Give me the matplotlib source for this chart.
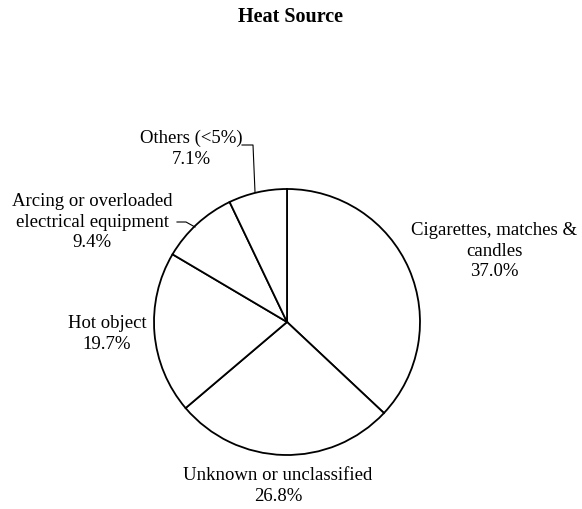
import matplotlib
matplotlib.use("Agg")
from matplotlib import pyplot as plt

plt.rcParams['font.family'] = ['Liberation Serif', 'DejaVu Serif']

labels = ['Cigarettes, matches &\ncandles', 'Unknown or unclassified',
          'Hot object', 'Arcing or overloaded\nelectrical equipment', 'Others (<5%)']
shares = [37.0, 26.8, 19.7, 9.4, 7.1]

# label block centres in image pixels (x, y from top)
label_pos = [(494, 251), (278, 486), (107, 334), (92, 222), (191, 149)]

W, H = 582, 509
fig = plt.figure(figsize=(W / 100, H / 100), dpi=100)
ax = fig.add_axes([0, 0, 1, 1])

cx, cy, r = 287, H - 322, 133
ax.pie(shares, startangle=90, counterclock=False, center=(cx, cy), radius=r,
       colors=['white'] * len(shares),
       wedgeprops=dict(edgecolor='black', linewidth=1.3))
ax.set_xlim(0, W)
ax.set_ylim(0, H)
ax.set_aspect('auto')
ax.axis('off')

for lab, val, (x, y) in zip(labels, shares, label_pos):
    ax.text(x, H - y, f"{lab}\n{val:.1f}%", ha='center', va='center',
            fontsize=13.5, linespacing=1.3)

# leader lines
ax.plot([242, 253, 255], [H - 145, H - 145, H - 192], color='black', lw=0.8)
ax.plot([177, 186, 195], [H - 222, H - 222, H - 227], color='black', lw=0.8)

ax.text(W / 2, H - 17, 'Heat Source', ha='center', va='center',
        fontsize=14.5, fontweight='bold')

fig.savefig('out.png', dpi=100)
